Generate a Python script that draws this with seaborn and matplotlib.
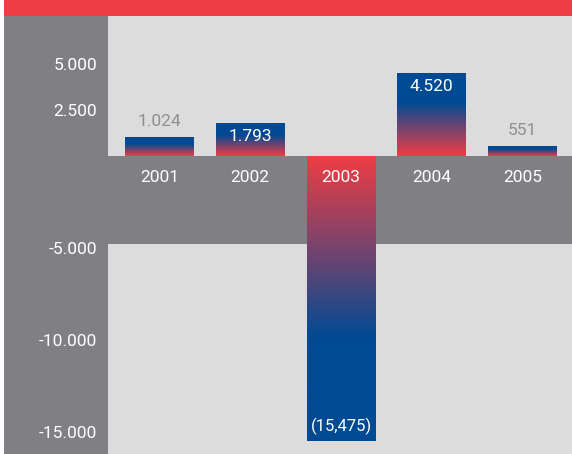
import numpy as np
import pandas as pd
import matplotlib
matplotlib.use("Agg")
import matplotlib.pyplot as plt
from matplotlib.colors import LinearSegmentedColormap
from matplotlib.patches import Rectangle
import seaborn as sns

# Operating profit by year
years = ["2001", "2002", "2003", "2004", "2005"]
profit = [1024, 1793, -15475, 4520, 551]
value_labels = ["1.024", "1.793", "(15,475)", "4.520", "551"]
tick_values = [5000, 2500, -5000, -10000, -15000]
tick_labels = ["5.000", "2.500", "-5.000", "-10.000", "-15.000"]
title = "Operating profit"

RED = "#ef3d45"
BLUE = "#004a93"
PANEL = "#807f83"
PLOT_BG = "#dcdcdc"
MUTED = "#8f8e92"

sns.set_theme(style="white")
plt.rcParams["font.family"] = ["Roboto", "DejaVu Sans"]

df = pd.DataFrame({"year": years, "profit": profit})

W, H = 572, 454
fig = plt.figure(figsize=(W / 100, H / 100), dpi=100, facecolor=PANEL)

# white margin on the left and red header strip
fig.patches.append(Rectangle((0, 0), 4 / W, 1, transform=fig.transFigure,
                             facecolor="white", edgecolor="none", zorder=0))
fig.patches.append(Rectangle((4 / W, 1 - 16 / H), 1, 16 / H, transform=fig.transFigure,
                             facecolor=RED, edgecolor="none", zorder=0))
fig.text(88 / W, 1 + 6 / H, title, color="white", fontsize=17, fontweight="bold",
         ha="left", va="baseline", family=["DejaVu Sans"])

ax = fig.add_axes([108 / W, 0, 464 / W, (H - 16) / H])
ax.set_facecolor(PLOT_BG)

sns.barplot(data=df, x="year", y="profit", ax=ax, width=0.76,
            color=RED, saturation=1, errorbar=None, zorder=3)

# band behind the year labels
ax.axhspan(-4780, 0, color=PANEL, lw=0, zorder=1)

# gradient fill: red at the baseline, blue toward the bar end
cmap = LinearSegmentedColormap.from_list("rb", [(0, RED), (0.64, BLUE), (1, BLUE)])
grad = np.linspace(0, 1, 256).reshape(-1, 1)
for patch, val in zip(ax.patches, profit):
    x0, w = patch.get_x(), patch.get_width()
    y0, h = patch.get_y(), patch.get_height()
    patch.set_facecolor("none")
    patch.set_edgecolor("none")
    lo, hi = min(y0, y0 + h), max(y0, y0 + h)
    img = grad if val >= 0 else grad[::-1]
    im = ax.imshow(img, cmap=cmap, aspect="auto", origin="lower",
                   extent=(x0, x0 + w, lo, hi), zorder=3, interpolation="bilinear")
    im.set_clip_path(patch)

ax.set_xlim(-0.567, 4.545)
ax.set_ylim(-16200, 7600)

# value labels
for i, (val, lab) in enumerate(zip(profit, value_labels)):
    if abs(val) > 1500:
        if val > 0:
            ax.annotate(lab, (i, val), xytext=(0, -14), textcoords="offset pixels",
                        ha="center", va="center", color="white", fontsize=12.5, zorder=5)
        else:
            ax.annotate(lab, (i, val), xytext=(0, 14), textcoords="offset pixels",
                        ha="center", va="center", color="white", fontsize=12, zorder=5)
    else:
        ax.annotate(lab, (i, val), xytext=(0, 8), textcoords="offset pixels",
                    ha="center", va="bottom", color=MUTED, fontsize=12.5, zorder=5)

# year labels inside the band
for i, yr in enumerate(years):
    ax.annotate(yr, (i, 0), xytext=(0, -22), textcoords="offset pixels",
                ha="center", va="center", color="white", fontsize=12.5, zorder=5)

ax.set_xticks([])
ax.set_yticks(tick_values)
ax.set_yticklabels(tick_labels, color="white", fontsize=12.5)
ax.tick_params(axis="y", length=0, pad=8)
ax.set_xlabel("")
ax.set_ylabel("")
for s in ax.spines.values():
    s.set_visible(False)

fig.savefig("out.png", dpi=100, facecolor=fig.get_facecolor())
